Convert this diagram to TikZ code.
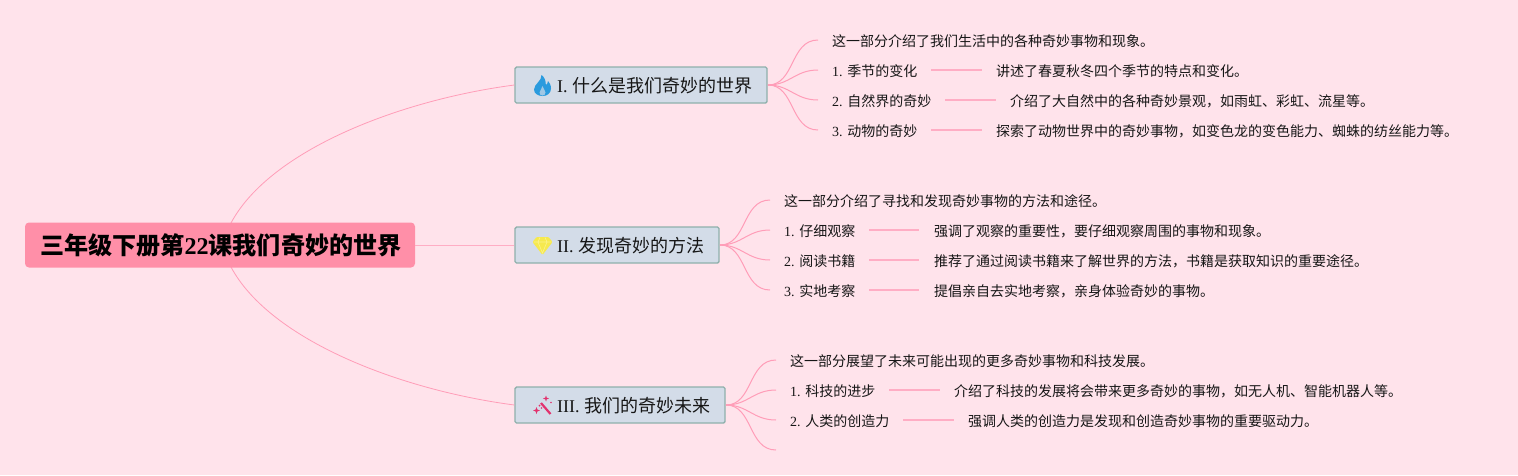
\documentclass[tikz,border=0pt]{standalone}
\usepackage{fontspec}
\setmainfont{Liberation Serif}
\newfontfamily\cjk{Noto Sans CJK SC}
\newfontfamily\cjkb{Noto Sans CJK SC Bold}
\newcommand{\C}[1]{{\cjk #1}}
\definecolor{bgc}{HTML}{FFE3EB}
\definecolor{rootc}{HTML}{FF8FA8}
\definecolor{linec}{HTML}{FF9DB8}
\definecolor{linel}{HTML}{FFADC4}
\definecolor{boxc}{HTML}{D3DCE8}
\definecolor{boxb}{HTML}{8FB0AC}
\definecolor{txt}{HTML}{161616}
\definecolor{flamec}{HTML}{2A9BDE}
\definecolor{gemc}{HTML}{F6E94E}
\definecolor{gemd}{HTML}{FBF28C}
\definecolor{wandc}{HTML}{E2326E}
\tikzset{
 x=1pt,y=-1pt,
 rootn/.style={fill=rootc,rounded corners=4pt,minimum width=390pt,minimum height=45pt,inner sep=0pt,font=\fontsize{24.1}{26}\selectfont\bfseries,text=black},
 branch/.style={fill=boxc,draw=boxb,line width=1.4pt,rounded corners=1.5pt,minimum height=36pt,inner sep=0pt},
 btext/.style={anchor=west,inner sep=0pt,font=\fontsize{18}{20}\selectfont,text=txt},
 leaf/.style={anchor=west,inner sep=0pt,font=\fontsize{14}{16}\selectfont,text=txt},
 conn/.style={draw=linec,line width=1pt},
 hconn/.style={draw=linel,line width=1.4pt},
 rootconn/.style={draw=linec,line width=0.8pt},
}
\begin{document}
\begin{tikzpicture}
\useasboundingbox[fill=bgc] (0,0) rectangle (1518,475);
% root
\coordinate (rA) at (231,223);
\coordinate (rB) at (231,267);
% branches
\node[branch,minimum width=252pt] (b1) at (641,85) {};
\node[branch,minimum width=204pt] (b2) at (617,245) {};
\node[branch,minimum width=210pt] (b3) at (620,405) {};
\draw[rootconn] (rA) .. controls (270,150) and (400,100) .. (b1.west);
\draw[rootconn] (rB) .. controls (270,340) and (400,390) .. (b3.west);
\node[rootn] (root) at (220,245) {\hspace*{1.5pt}\raisebox{-3pt}{\cjkb 三年级下册第{\rmfamily\bfseries 22}课我们奇妙的世界}};
\draw[hconn,line width=1pt] (root.east) -- (b2.west);
\node[btext] (t1) at (557,86) {I. \C{什么是我们奇妙的世界}};
\node[btext] (t2) at (557,246) {II. \C{发现奇妙的方法}};
\node[btext] (t3) at (557,406) {III. \C{我们的奇妙未来}};
% icons
\fill[flamec] (541.5,75) .. controls (542,81) and (534,84) .. (534,89.5) .. controls (534,93.5) and (538,96) .. (542.5,96) .. controls (547,96) and (551,93.5) .. (551,88.5) .. controls (551,85) and (549.5,82.5) .. (548,81) .. controls (547.8,83) and (547,84.5) .. (545.8,85) .. controls (546,81) and (544.5,77) .. (541.5,75) -- cycle;
\fill[boxc!70!flamec] (542.5,86) .. controls (542.5,89) and (539.5,90) .. (539.5,92.5) .. controls (539.5,94.5) and (541,95.5) .. (542.5,95.5) .. controls (544,95.5) and (545.5,94.5) .. (545.5,92.5) .. controls (545.5,90) and (543,89) .. (542.5,86) -- cycle;
\fill[gemc,rounded corners=1pt] (536.5,237) -- (548.5,237) -- (552.5,242) -- (542.5,255) -- (532.5,242) -- cycle;
\draw[gemd,line width=0.6pt] (533.5,242) -- (551.5,242) (538,242) -- (542.5,253) -- (547,242) (540,237.5) -- (538,242) (545,237.5) -- (547,242);
\draw[wandc,line width=2.2pt] (541,403) -- (550.5,414);
\fill[wandc] (546,395.5) -- (546.8,397.7) -- (549,398.5) -- (546.8,399.3) -- (546,401.5) -- (545.2,399.3) -- (543,398.5) -- (545.2,397.7) -- cycle;
\fill[wandc] (536.5,407) -- (537.4,409.6) -- (540,410.5) -- (537.4,411.4) -- (536.5,414) -- (535.6,411.4) -- (533,410.5) -- (535.6,409.6) -- cycle;
\fill[wandc] (551,402.5) circle (0.9pt) (539.5,405.5) circle (1pt) (541.5,408) circle (0.8pt);
% leaves 1
\coordinate (h1) at (768,85);
\node[leaf] (l11) at (832,41.5) {\C{这一部分介绍了我们生活中的各种奇妙事物和现象。}};
\node[leaf] (l12) at (832,71.5) {1. \C{季节的变化}};
\node[leaf] (l13) at (832,101.5) {2. \C{自然界的奇妙}};
\node[leaf] (l14) at (832,131.5) {3. \C{动物的奇妙}};
\node[leaf] (d12) at (996,71.5) {\C{讲述了春夏秋冬四个季节的特点和变化。}};
\node[leaf] (d13) at (1010,101.5) {\C{介绍了大自然中的各种奇妙景观，如雨虹、彩虹、流星等。}};
\node[leaf] (d14) at (996,131.5) {\C{探索了动物世界中的奇妙事物，如变色龙的变色能力、蜘蛛的纺丝能力等。}};
\coordinate (e11) at (818,40);\coordinate (e12) at (818,70);\coordinate (e13) at (818,100);\coordinate (e14) at (818,130);
\draw[conn] (h1) .. controls (795,85) and (790,40) .. (e11);
\draw[conn] (h1) .. controls (790,85) and (795,70) .. (e12);
\draw[conn] (h1) .. controls (790,85) and (795,100) .. (e13);
\draw[conn] (h1) .. controls (795,85) and (790,130) .. (e14);
\draw[hconn] (931,70) -- (982,70);
\draw[hconn] (945,100) -- (996,100);
\draw[hconn] (931,130) -- (982,130);
% leaves 2
\coordinate (h2) at (720,245);
\node[leaf] (l21) at (784,201.5) {\C{这一部分介绍了寻找和发现奇妙事物的方法和途径。}};
\node[leaf] (l22) at (784,231.5) {1. \C{仔细观察}};
\node[leaf] (l23) at (784,261.5) {2. \C{阅读书籍}};
\node[leaf] (l24) at (784,291.5) {3. \C{实地考察}};
\node[leaf] (d22) at (934,231.5) {\C{强调了观察的重要性，要仔细观察周围的事物和现象。}};
\node[leaf] (d23) at (934,261.5) {\C{推荐了通过阅读书籍来了解世界的方法，书籍是获取知识的重要途径。}};
\node[leaf] (d24) at (934,291.5) {\C{提倡亲自去实地考察，亲身体验奇妙的事物。}};
\coordinate (e21) at (770,200);\coordinate (e22) at (770,230);\coordinate (e23) at (770,260);\coordinate (e24) at (770,290);
\draw[conn] (h2) .. controls (747,245) and (742,200) .. (e21);
\draw[conn] (h2) .. controls (742,245) and (747,230) .. (e22);
\draw[conn] (h2) .. controls (742,245) and (747,260) .. (e23);
\draw[conn] (h2) .. controls (747,245) and (742,290) .. (e24);
\draw[hconn] (869,230) -- (919,230);
\draw[hconn] (869,260) -- (919,260);
\draw[hconn] (869,290) -- (919,290);
% leaves 3
\coordinate (h3) at (726,405);
\node[leaf] (l31) at (790,361.5) {\C{这一部分展望了未来可能出现的更多奇妙事物和科技发展。}};
\node[leaf] (l32) at (790,391.5) {1. \C{科技的进步}};
\node[leaf] (l33) at (790,421.5) {2. \C{人类的创造力}};
\node[leaf] (d32) at (954,391.5) {\C{介绍了科技的发展将会带来更多奇妙的事物，如无人机、智能机器人等。}};
\node[leaf] (d33) at (968,421.5) {\C{强调人类的创造力是发现和创造奇妙事物的重要驱动力。}};
\coordinate (e31) at (776,360);\coordinate (e32) at (776,390);\coordinate (e33) at (776,420);\coordinate (e34) at (776,450);
\draw[conn] (h3) .. controls (753,405) and (748,360) .. (e31);
\draw[conn] (h3) .. controls (748,405) and (753,390) .. (e32);
\draw[conn] (h3) .. controls (748,405) and (753,420) .. (e33);
\draw[conn] (h3) .. controls (753,405) and (748,450) .. (e34);
\draw[hconn] (889,390) -- (940,390);
\draw[hconn] (903,420) -- (954,420);
\end{tikzpicture}
\end{document}
